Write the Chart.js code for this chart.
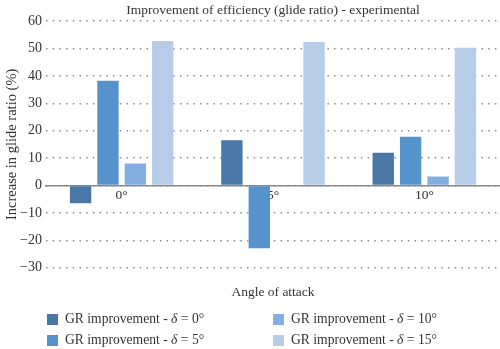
<!DOCTYPE html>
<html><head><meta charset="utf-8">
<script src="https://cdn.jsdelivr.net/npm/chart.js@4.4.1/dist/chart.umd.min.js"></script>
<style>
html,body{margin:0;padding:0;background:#fff;}
#wrap{position:relative;width:500px;height:349px;overflow:hidden;}
#c{position:absolute;left:0;top:0;}
#legend{position:absolute;left:47px;top:311px;display:grid;grid-template-columns:226px auto;grid-auto-rows:21px;
  font-family:'Liberation Serif',serif;font-size:13.6px;color:#333;}
.item{display:flex;align-items:center;white-space:nowrap;height:16px;}
.box{width:11px;height:11px;margin-right:7px;flex:none;}
</style></head>
<body><div id="wrap"><canvas id="c" width="500" height="349"></canvas><div id="legend"></div></div>
<script>
const categories = ['0°', '5°', '10°'];
const seriesLabels = ['GR improvement - δ = 0°', 'GR improvement - δ = 5°', 'GR improvement - δ = 10°', 'GR improvement - δ = 15°'];
const gr0 = [-6.5, 16.5, 12];
const gr5 = [38.2, -22.9, 17.8];
const gr10 = [8, 0.3, 3.3];
const gr15 = [52.7, 52.3, 50.2];
const seriesColors = ['#4a78a6', '#5693cc', '#84ade0', '#b7cce8'];
const yMin = -30, yMax = 60, yStep = 10;
const chartTitle = 'Improvement of efficiency (glide ratio) - experimental';
const xTitle = 'Angle of attack';
const yTitle = 'Increase in glide ratio (%)';
const legendOrder = [0, 2, 1, 3];

const FONT = "'Liberation Serif', serif";
const TXT = '#333';
const seriesValues = [gr0, gr5, gr10, gr15];

const chart = new Chart(document.getElementById('c'), {
  type: 'bar',
  data: {
    labels: categories,
    datasets: seriesValues.map((v, i) => ({
      label: seriesLabels[i],
      data: v,
      backgroundColor: seriesColors[i],
      borderWidth: 0,
      categoryPercentage: 0.724,
      barPercentage: 0.78,
      xAxisID: 'x'
    }))
  },
  options: {
    responsive: false,
    animation: false,
    devicePixelRatio: 1,
    layout: { padding: { left: 0, right: 0, top: 0, bottom: 44 } },
    plugins: { legend: { display: false }, title: { display: false }, tooltip: { enabled: false } },
    scales: {
      x: {
        type: 'category',
        position: { y: 0 },
        offset: true,
        grid: { display: false, drawTicks: false },
        border: { display: true, color: '#8a8a8a', width: 1.5 },
        ticks: { font: { family: FONT, size: 13.5 }, color: TXT, padding: 2, maxRotation: 0 }
      },
      xTop: {
        type: 'category',
        labels: categories,
        position: 'top',
        grid: { display: false, drawTicks: false },
        border: { display: false },
        ticks: { display: false },
        title: { display: true, text: chartTitle, font: { family: FONT, size: 13.5 }, color: TXT, padding: { top: 2.5, bottom: 2.3 } },
        afterFit: s => { s.height = 21; }
      },
      xBottom: {
        type: 'category',
        labels: categories,
        position: 'bottom',
        grid: { display: false, drawTicks: false },
        border: { display: false },
        ticks: { display: false },
        title: { display: true, text: xTitle, font: { family: FONT, size: 13.5 }, color: TXT, padding: { top: 17, bottom: 4 } }
      },
      y: {
        min: yMin, max: yMax,
        ticks: {
          stepSize: yStep, padding: 4,
          font: { family: FONT, size: 14 }, color: TXT,
          callback: v => String(v).replace('-', '\u2212')
        },
        grid: { color: '#8c8c8c', lineWidth: 1.5, drawTicks: false, borderDash: [1.5, 5.2] },
        border: { display: false, dash: [1.5, 5.2] },
        title: { display: true, text: yTitle, font: { family: FONT, size: 14.5 }, color: TXT, padding: { top: 3.3, bottom: 0 } },
        afterFit: s => { s.width = 46; }
      }
    }
  }
});

const lg = document.getElementById('legend');
legendOrder.forEach(i => {
  const ds = chart.data.datasets[i];
  const item = document.createElement('div');
  item.className = 'item';
  const box = document.createElement('span');
  box.className = 'box';
  box.style.background = ds.backgroundColor;
  const txt = document.createElement('span');
  txt.innerHTML = ds.label.replace('δ', '<i>δ</i>');
  item.appendChild(box); item.appendChild(txt);
  lg.appendChild(item);
});
</script>
</body></html>
